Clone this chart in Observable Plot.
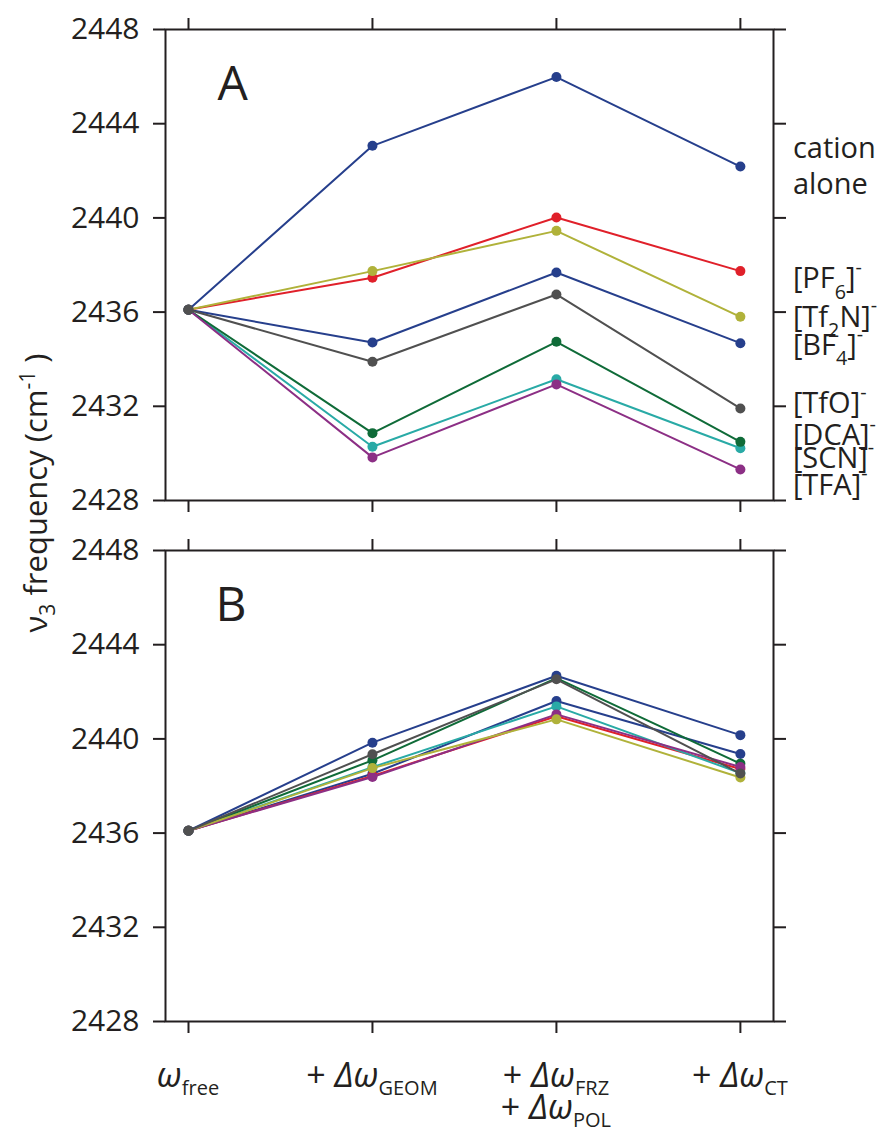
<!DOCTYPE html>
<html><head><meta charset="utf-8">
<script src="https://cdn.jsdelivr.net/npm/d3@7"></script>
<script src="https://cdn.jsdelivr.net/npm/@observablehq/plot@0.6"></script>
<style>
body{margin:0;background:#fff;}
#fig{position:relative;width:883px;height:1131px;font-family:"Open Sans",sans-serif;}
#fig svg{position:absolute;left:0;overflow:visible;background:transparent;}
</style></head><body><div id="fig"></div>
<script>
// ---- data ----
const steps = [0, 1, 2, 3]; // ω_free, +Δω_GEOM, +Δω_FRZ+Δω_POL, +Δω_CT
const stepLabels = [
  [["ω", "free"]],
  [["+ Δω", "GEOM"]],
  [["+ Δω", "FRZ"], ["+ Δω", "POL"]],
  [["+ Δω", "CT"]]
];
const seriesNames = ["cation alone", "[PF6]-", "[Tf2N]-", "[BF4]-", "[TfO]-", "[DCA]-", "[SCN]-", "[TFA]-"];
const seriesColors = ["#263f8c", "#e0202a", "#b0b23a", "#263f8c", "#505050", "#0f6b38", "#29aaa6", "#8c2f85"];
const drawOrder = ["[BF4]-", "[PF6]-", "[SCN]-", "[DCA]-", "[TFA]-", "[Tf2N]-", "cation alone", "[TfO]-"];

// Panel A
const cationA = [2436.1, 2443.06, 2445.98, 2442.18];
const pf6A    = [2436.1, 2437.46, 2440.02, 2437.74];
const tf2nA   = [2436.1, 2437.74, 2439.45, 2435.80];
const bf4A    = [2436.1, 2434.71, 2437.68, 2434.68];
const tfoA    = [2436.1, 2433.89, 2436.75, 2431.91];
const dcaA    = [2436.1, 2430.86, 2434.74, 2430.49];
const scnA    = [2436.1, 2430.28, 2433.15, 2430.22];
const tfaA    = [2436.1, 2429.83, 2432.93, 2429.32];
// Panel B
const cationB = [2436.1, 2439.84, 2442.68, 2440.16];
const pf6B    = [2436.1, 2438.43, 2440.96, 2438.72];
const tf2nB   = [2436.1, 2438.76, 2440.83, 2438.36];
const bf4B    = [2436.1, 2438.52, 2441.61, 2439.36];
const tfoB    = [2436.1, 2439.35, 2442.53, 2438.53];
const dcaB    = [2436.1, 2439.09, 2442.58, 2438.95];
const scnB    = [2436.1, 2438.80, 2441.38, 2438.55];
const tfaB    = [2436.1, 2438.38, 2441.04, 2438.81];

const yTicks = [2428, 2432, 2436, 2440, 2444, 2448];
// right-hand labels of panel A (text, y position in cm-1)
const rightLabels = ["cation", "alone", "[PF_{6}]^{-}", "[Tf_{2}N]^{-}", "[BF_{4}]^{-}", "[TfO]^{-}", "[DCA]^{-}", "[SCN]^{-}", "[TFA]^{-}"];
const rightLabelY = [2442.95, 2441.40, 2437.41, 2435.78, 2434.58, 2432.11, 2430.76, 2429.77, 2428.64];

// ---- drawing ----
const INK = "#231f20";
function rows(arrs) {
  const out = [];
  arrs.forEach((vals, si) => vals.forEach((v, i) => out.push({s: seriesNames[si], i: steps[i], v})));
  return out;
}
function panel(arrs, letter, top, bottom, height, letterDx) {
  const data = rows(arrs);
  const marks = [
    Plot.axisY({ticks: yTicks, tickSize: 12, tickPadding: 14, strokeWidth: 2, stroke: INK, label: null, fontSize: 30, tickFormat: d => String(d)}),
    Plot.axisY({anchor: "right", ticks: yTicks, tickSize: 12, strokeWidth: 2, stroke: INK, label: null, tickFormat: () => ""}),
    Plot.axisX({anchor: "top", ticks: steps, tickSize: 12, strokeWidth: 2, stroke: INK, label: null, tickFormat: () => ""}),
    Plot.axisX({anchor: "bottom", ticks: steps, tickSize: 12, strokeWidth: 2, stroke: INK, label: null, tickFormat: () => ""}),
    Plot.frame({stroke: INK, strokeWidth: 2}),
    Plot.text([letter], {frameAnchor: "top-left", dx: letterDx, dy: 36, fontSize: 48, lineAnchor: "top", textAnchor: "start", fill: INK})
  ];
  for (const name of drawOrder) {
    const d = data.filter(r => r.s === name);
    marks.push(Plot.line(d, {x: "i", y: "v", stroke: "s", strokeWidth: 2}));
    marks.push(Plot.dot(d, {x: "i", y: "v", fill: "s", r: 5}));
  }
  return Plot.plot({
    width: 883, height,
    marginLeft: 165, marginRight: 110, marginTop: top, marginBottom: bottom,
    x: {type: "linear", domain: [-0.125, 3.18], axis: null},
    y: {domain: [2428, 2448], axis: null},
    color: {domain: seriesNames, range: seriesColors},
    style: {fontFamily: "Open Sans", fontSize: "30px", color: INK, background: "transparent", overflow: "visible"},
    marks
  });
}

function richText(sel, str, base) {
  const re = /(_|\^)\{([^}]*)\}/g;
  let last = 0, m, shift = 0;
  const parts = [];
  while ((m = re.exec(str))) {
    if (m.index > last) parts.push({t: str.slice(last, m.index), k: "n"});
    parts.push({t: m[2], k: m[1] === "_" ? "sub" : "sup"});
    last = re.lastIndex;
  }
  if (last < str.length) parts.push({t: str.slice(last), k: "n"});
  for (const p of parts) {
    const target = p.k === "sub" ? base * 0.36 : p.k === "sup" ? -base * 0.5 : 0;
    sel.append("tspan").attr("dy", target - shift)
      .attr("font-size", p.k === "n" ? base : base * 0.68).text(p.t);
    shift = target;
  }
}

const fig = document.getElementById("fig");
const A = panel([cationA, pf6A, tf2nA, bf4A, tfoA, dcaA, scnA, tfaA], "A", 29, 20, 520, 52);
A.style.top = "0px";
fig.appendChild(A);
const B = panel([cationB, pf6B, tf2nB, bf4B, tfoB, dcaB, scnB, tfaB], "B", 30, 110, 611, 50);
B.style.top = "520px";
fig.appendChild(B);

// right labels on panel A
{
  const xs = A.scale("x"), ys = A.scale("y");
  const g = d3.select(A).append("g").attr("fill", INK).attr("font-family", "Open Sans")
    .attr("font-size", 29).attr("text-anchor", "start");
  rightLabels.forEach((lab, k) => {
    const t = g.append("text").attr("x", xs.apply(3) + 53).attr("y", ys.apply(rightLabelY[k]) + 10);
    richText(t, lab, 29);
  });
}
// x category labels on panel B
{
  const xs = B.scale("x");
  const g = d3.select(B).append("g").attr("fill", INK).attr("font-family", "Open Sans");
  stepLabels.forEach((lines, i) => {
    lines.forEach(([main, sub], li) => {
      const t = g.append("text").attr("x", xs.apply(steps[i])).attr("y", 30 + 471 + 66 + li * 32)
        .attr("text-anchor", "middle");
      const plus = main.startsWith("+");
      if (plus) t.append("tspan").attr("font-size", 34).text("+ ");
      t.append("tspan").attr("font-size", 34).attr("font-style", "italic").text(plus ? main.slice(2) : main);
      t.append("tspan").attr("font-size", 20).attr("dy", 8).text(sub);
    });
  });
}
// y axis title
{
  const svg = d3.select(fig).append("svg").attr("width", 883).attr("height", 1131).style("top", "0px")
    .style("pointer-events", "none");
  const t = svg.append("text").attr("transform", "translate(47,493) rotate(-90)")
    .attr("text-anchor", "middle").attr("fill", INK).attr("font-family", "Open Sans");
  t.append("tspan").attr("font-size", 31).text("ν");
  t.append("tspan").attr("font-size", 21).attr("dy", 8).text("3");
  t.append("tspan").attr("font-size", 31).attr("dy", -8).text(" frequency (cm");
  t.append("tspan").attr("font-size", 21).attr("dy", -12).text("-1");
  t.append("tspan").attr("font-size", 31).attr("dy", 12).text(" )");
}
</script></body></html>
